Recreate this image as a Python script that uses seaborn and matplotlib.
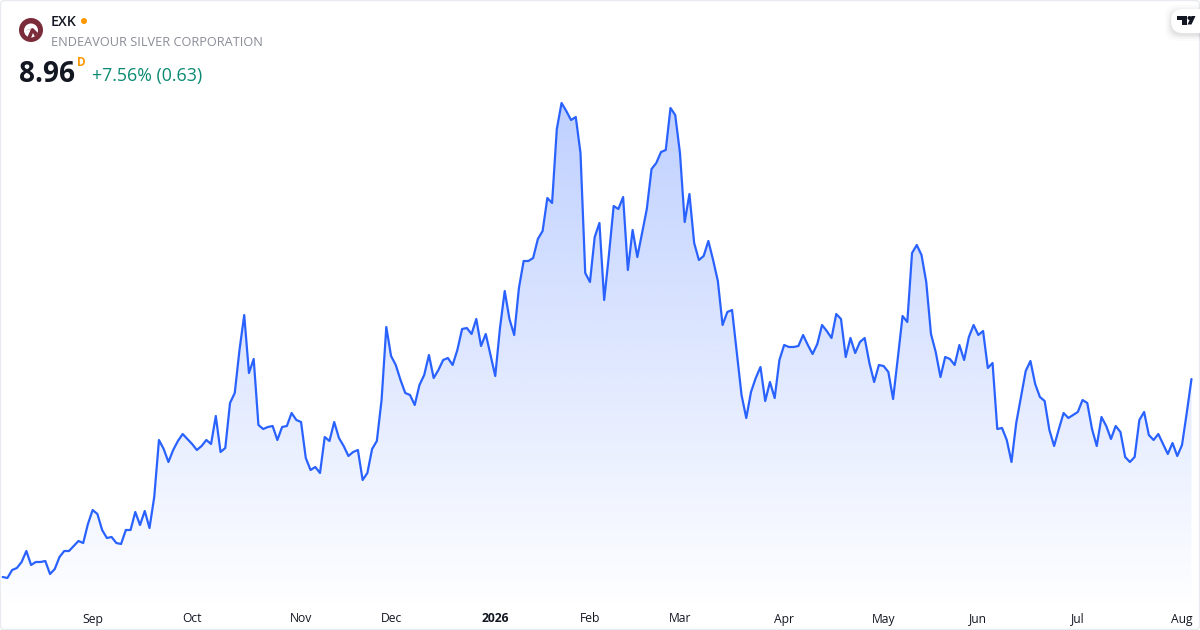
import numpy as np
import pandas as pd
import matplotlib
matplotlib.use("Agg")
import matplotlib.pyplot as plt
from matplotlib.patches import Circle, FancyBboxPatch, Polygon
import seaborn as sns

ticker = "EXK"
company = "ENDEAVOUR SILVER CORPORATION"
last_price = "8.96"
change_text = "+7.56% (0.63)"

closes = [
    5.00, 4.98, 5.14, 5.18, 5.30, 5.52, 5.24, 5.30, 5.30, 5.32,
    5.06, 5.16, 5.40, 5.52, 5.52, 5.62, 5.72, 5.68, 6.06, 6.34,
    6.26, 5.94, 5.78, 5.80, 5.68, 5.66, 5.94, 5.94, 6.30, 6.04,
    6.32, 5.98, 6.60, 7.74, 7.56, 7.30, 7.54, 7.72, 7.86, 7.76,
    7.66, 7.54, 7.62,
    7.74, 7.66, 8.22, 7.50, 7.58, 8.48, 8.68, 9.54, 10.24, 9.08,
    9.36, 8.04, 7.96, 8.00, 8.02, 7.74, 8.00, 8.02, 8.28, 8.14,
    8.10, 7.38, 7.14, 7.20, 7.08, 7.80, 7.72, 8.10, 7.78, 7.62,
    7.42, 7.50, 7.54, 6.94, 7.08, 7.56, 7.72, 8.54, 10.00, 9.42,
    9.24, 8.94, 8.68, 8.64, 8.44, 8.84, 9.04, 9.44, 8.98, 9.14,
    9.34, 9.38, 9.24, 9.54, 9.96, 9.98, 9.86, 10.16, 9.62, 9.86,
    9.44, 9.02, 9.98,
    10.72, 10.16, 9.84, 10.78, 11.32, 11.32, 11.38, 11.76, 11.92, 12.58,
    12.48, 13.96, 14.48, 14.32, 14.14, 14.20, 13.48, 11.08, 10.90, 11.80,
    12.08, 10.54, 11.44, 12.42, 12.36, 12.60, 11.14, 11.94, 11.40, 11.88,
    12.36, 13.16, 13.28, 13.50, 13.54, 14.38, 14.24, 13.48, 12.10, 12.66,
    11.68, 11.34, 11.42, 11.72, 11.34, 10.92, 10.04, 10.30, 10.34,
    9.48, 8.64, 8.18, 8.70, 8.98, 9.20, 8.52, 8.90, 8.58, 9.34,
    9.64, 9.60, 9.60, 9.62, 9.84, 9.64, 9.46, 9.66, 10.04, 9.92,
    9.78, 10.26, 10.16, 9.40, 9.78, 9.48, 9.70, 9.78, 9.28, 8.90,
    9.24, 9.22, 9.10, 8.56, 9.38, 10.22, 10.10, 11.48, 11.64, 11.44,
    10.90, 9.86, 9.50, 9.00, 9.40, 9.36, 9.24, 9.64, 9.34, 9.80,
    10.04, 9.84, 9.92, 9.18, 9.28, 7.96,
    7.98, 7.74, 7.30, 8.08, 8.60, 9.12, 9.32, 8.86, 8.60, 8.52,
    7.94, 7.62, 7.96, 8.28, 8.18, 8.24, 8.30, 8.54, 8.48, 7.96,
    7.62, 8.20, 8.02, 7.76, 8.02, 7.90, 7.40, 7.30, 7.40, 8.14,
    8.30, 7.84, 7.74, 7.86, 7.66, 7.46, 7.68, 7.42, 7.64, 8.28,
    8.96,
]
month_labels = ["Sep", "Oct", "Nov", "Dec", "2026", "Feb", "Mar", "Apr", "May", "Jun", "Jul", "Aug"]
month_sessions = [19, 40, 63, 82, 104, 124, 143, 165, 186, 206, 227, 249]

sns.set_theme(style="white")
plt.rcParams["font.family"] = ["Open Sans", "DejaVu Sans"]

df = pd.DataFrame({"session": np.arange(len(closes)), "close": closes})

fig = plt.figure(figsize=(12, 6.3), dpi=100, facecolor="white")
ax = fig.add_axes([0, 0, 1, 1])
ax.set_xlim(-0.564, 252.8)
ax.set_ylim(3.94, 16.54)
ax.axis("off")

# area under the line fades out towards the bottom
top = df["close"].max()
fade_end = 4.3
grad = np.zeros((256, 2, 4))
grad[..., 0] = 41 / 255
grad[..., 1] = 98 / 255
grad[..., 2] = 1
grad[..., 3] = np.linspace(0.30, 0, 256)[:, None]
img = ax.imshow(grad, extent=[0, len(closes) - 1, fade_end, top], origin="upper",
                aspect="auto", zorder=1, interpolation="bilinear")
area = ax.fill_between(df["session"], df["close"], fade_end, color="none")
img.set_clip_path(area.get_paths()[0], transform=ax.transData)
ax.set_xlim(-0.564, 252.8)
ax.set_ylim(3.94, 16.54)

sns.lineplot(data=df, x="session", y="close", ax=ax, color="#2962FF", linewidth=1.6, zorder=3)
ax.axis("off")

# everything else is placed in pixels of the picture
ui = fig.add_axes([0, 0, 1, 1], facecolor="none")
ui.set_xlim(0, 1200)
ui.set_ylim(630, 0)
ui.axis("off")

ui.add_patch(FancyBboxPatch((0.5, 0.5), 1199, 629, boxstyle="round,pad=0,rounding_size=4",
                            fc="none", ec="#E9EBF0", lw=1.0))

x_per_session = 1200 / (252.8 + 0.564)
for label, session in zip(month_labels, month_sessions):
    x_px = (session + 0.564) * x_per_session
    ui.text(x_px, 619, label, ha="center", va="center", fontsize=8.7, color="#131722",
            fontweight="bold" if label == "2026" else "normal")

ui.add_patch(Circle((31, 30), 12, fc="#7B2C3B", ec="none"))
ui.add_patch(Circle((31, 30.5), 7, fc="white", ec="none"))
ui.add_patch(Polygon([(24, 31), (31, 29), (27, 38), (31, 38), (33, 33), (35, 37), (38, 33), (33, 28)],
                     fc="#7B2C3B", ec="none"))

ui.text(51, 22, ticker, ha="left", va="center", fontsize=10.2, color="#131722", fontweight="semibold")
ui.add_patch(Circle((84, 21), 3, fc="#FF9800", ec="none"))
ui.text(51, 43, company, ha="left", va="center", fontsize=9.17, color="#8A8D96")
ui.text(19, 74, last_price, ha="left", va="center", fontsize=20.2, color="#131722", fontweight="bold")
ui.text(77, 63, "D", ha="left", va="center", fontsize=8.5, color="#FF9800", fontweight="bold")
ui.text(92, 76, change_text, ha="left", va="center", fontsize=12.8, color="#0B8A72")

# logo pill in the corner
for grow, alpha in zip([6, 4, 2.5, 1], [0.015, 0.02, 0.03, 0.04]):
    ui.add_patch(FancyBboxPatch((1171 - grow, 9 - grow + 2), 60 + grow, 24 + 2 * grow,
                                boxstyle="round,pad=0,rounding_size=12",
                                fc="black", ec="none", alpha=alpha))
ui.add_patch(FancyBboxPatch((1171, 9), 60, 24, boxstyle="round,pad=0,rounding_size=12",
                            fc="white", ec="none"))
ui.add_patch(Polygon([(1177, 16), (1187, 16), (1187, 24.5), (1182, 24.5), (1182, 20), (1177, 20)],
                     fc="#131722", ec="none"))
ui.add_patch(Circle((1189.5, 18), 2, fc="#131722", ec="none"))
ui.add_patch(Polygon([(1187.5, 24.5), (1191.5, 16), (1195.5, 16), (1191.5, 24.5)], fc="#131722", ec="none"))

fig.savefig("out.png", dpi=100)
